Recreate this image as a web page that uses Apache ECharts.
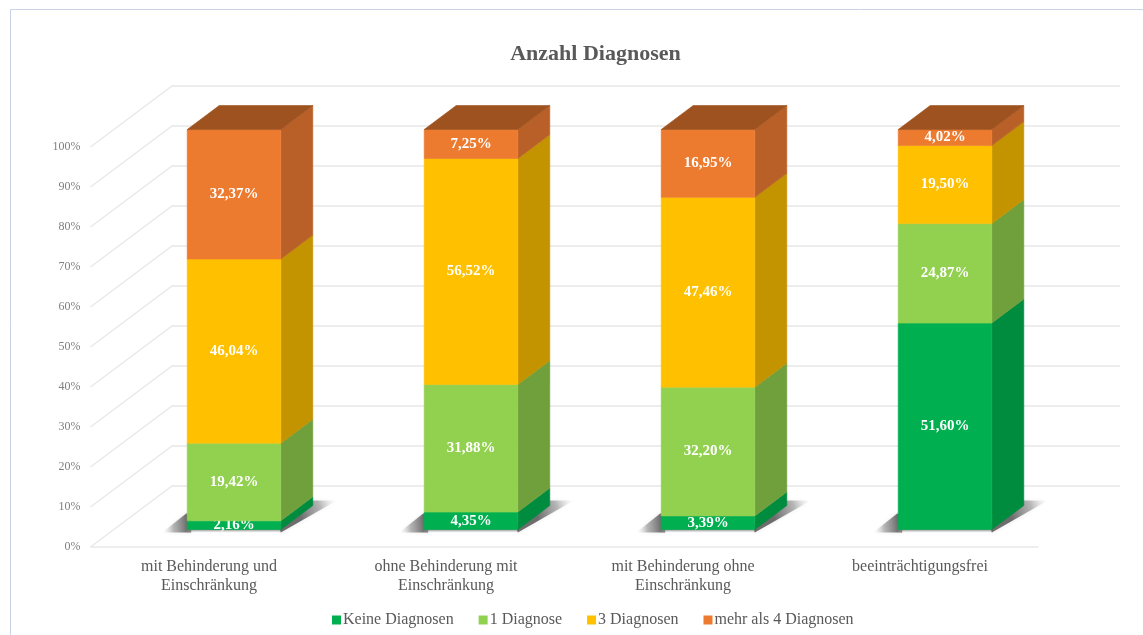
<!DOCTYPE html>
<html>
<head>
<meta charset="utf-8">
<style>html,body{margin:0;padding:0;background:#fff}#c{width:1143px;height:635px}</style>
<script src="https://cdn.jsdelivr.net/npm/echarts@6/dist/echarts.min.js"></script>
</head>
<body>
<div id="c"></div>
<script>
const categories = ['mit Behinderung und\nEinschränkung', 'ohne Behinderung mit\nEinschränkung', 'mit Behinderung ohne\nEinschränkung', 'beeinträchtigungsfrei'];
const keineDiagnosen = [2.16, 4.35, 3.39, 51.60];
const eineDiagnose = [19.42, 31.88, 32.20, 24.87];
const dreiDiagnosen = [46.04, 56.52, 47.46, 19.50];
const vierDiagnosen = [32.37, 7.25, 16.95, 4.02];
const seriesNames = ['Keine Diagnosen', '1 Diagnose', '3 Diagnosen', 'mehr als 4 Diagnosen'];
const yTicks = [0, 10, 20, 30, 40, 50, 60, 70, 80, 90, 100];

const FONT = '"Liberation Serif", serif';
// Oblique projection constants of the 3D look
const WALL = {dx: 81.5, dy: -61};
const BAR = {ox: 25, oy: -17.5, dx: 32, dy: -24, widthFrac: 0.395};
const palette = [
  {face: '#00B050', side: '#008C3F', top: '#007A36'},
  {face: '#92D050', side: '#6FA03C', top: '#5F8A33'},
  {face: '#FFC000', side: '#C49300', top: '#A67D00'},
  {face: '#EC7B30', side: '#B86027', top: '#9E521F'}
];
const stacks = [keineDiagnosen, eineDiagnose, dreiDiagnosen, vierDiagnosen];

function poly(points, fill, stroke) {
  return {type: 'polygon', shape: {points}, style: {fill, stroke: stroke || fill, lineWidth: 0.6}};
}

function renderWall(params, api) {
  const v = api.value(0);
  const cs = params.coordSys;
  const p = api.coord([0, v]);
  const x0 = cs.x, x1 = cs.x + cs.width, y = p[1];
  const bx0 = x0 + WALL.dx, bx1 = x1 + WALL.dx, by = y + WALL.dy;
  const style = {stroke: '#E8E8E8', lineWidth: 1.3, fill: null};
  const children = [
    {type: 'polyline', shape: {points: [[x0, y], [bx0, by], [bx1, by]]}, style}
  ];
  if (v === 0) {
    children.push({type: 'line', shape: {x1: x0, y1: y, x2: x1, y2: y}, style});
  }
  return {type: 'group', silent: true, children};
}

function renderShadow(params, api) {
  const j = api.value(0);
  const c = api.coord([j, 0]);
  const hw = api.size([1, 0])[0] * BAR.widthFrac / 2;
  const L = c[0] + BAR.ox - hw, R = c[0] + BAR.ox + hw, B = c[1] + BAR.oy;
  const grad = (x, y, x2, y2) => ({type: 'linear', global: true, x, y, x2, y2, colorStops: [
    {offset: 0, color: 'rgba(95,95,95,0.9)'}, {offset: 0.55, color: 'rgba(130,130,130,0.55)'}, {offset: 1, color: 'rgba(210,210,210,0)'}]});
  const soft = {shadowBlur: 4, shadowColor: 'rgba(170,170,170,0.3)'};
  return {type: 'group', silent: true, children: [
    {type: 'polygon', shape: {points: [[L - 25, B + 3], [L - 1, B - 16], [L + 4, B - 16], [L + 4, B + 3]]},
      style: Object.assign({fill: grad(L, B - 3, L - 25, B - 1)}, soft)},
    {type: 'polygon', shape: {points: [[L, B + 3], [R + 1, B + 3], [R + 1, B - 3], [L, B - 3]]},
      style: {fill: {type: 'linear', global: true, x: 0, y: B, x2: 0, y2: B + 3, colorStops: [
        {offset: 0, color: 'rgba(110,110,110,0.8)'}, {offset: 1, color: 'rgba(190,190,190,0.15)'}]}}},
    {type: 'polygon', shape: {points: [[R, B + 3], [R + 56, B - 29], [R + 32, B - 29], [R - 2, B - 4]]},
      style: Object.assign({fill: grad(R + 18, B - 16, R + 56, B - 29)}, soft)}
  ]};
}

function renderSegment(params, api) {
  const j = api.value(0), lo = api.value(1), hi = api.value(2), val = api.value(3);
  const s = params.seriesIndex - 2;
  const col = palette[s];
  const a = api.coord([j, lo]), b = api.coord([j, hi]);
  const hw = api.size([1, 0])[0] * BAR.widthFrac / 2;
  const cx = a[0] + BAR.ox, yb = a[1] + BAR.oy, yt = b[1] + BAR.oy;
  const L = cx - hw, R = cx + hw, dx = BAR.dx, dy = BAR.dy;
  const children = [
    poly([[R, yb], [R + dx, yb + dy], [R + dx, yt + dy], [R, yt]], col.side),
    poly([[L, yb], [R, yb], [R, yt], [L, yt]], col.face)
  ];
  if (s === stacks.length - 1) {
    children.push(poly([[L, yt], [R, yt], [R + dx, yt + dy], [L + dx, yt + dy]], col.top));
  }
  children.push({
    type: 'text',
    style: {
      text: val.toFixed(2).replace('.', ',') + '%',
      x: cx, y: (yb + yt) / 2,
      align: 'center', verticalAlign: 'middle',
      fill: '#fff', font: 'bold 15px ' + FONT
    }
  });
  return {type: 'group', children};
}

const barSeries = seriesNames.map((name, s) => ({
  name,
  type: 'custom',
  renderItem: renderSegment,
  clip: false,
  itemStyle: {color: palette[s].face},
  encode: {x: 0, y: [1, 2]},
  data: categories.map((_, j) => {
    let base = 0;
    for (let k = 0; k < s; k++) base += stacks[k][j];
    return [j, base, base + stacks[s][j], stacks[s][j]];
  })
}));

const option = {
  animation: false,
  backgroundColor: '#fff',
  title: {
    text: 'Anzahl Diagnosen', left: 590.5, top: 38, textAlign: 'center',
    textStyle: {fontFamily: FONT, fontSize: 22, fontWeight: 'bold', color: '#595959'}
  },
  graphic: [{
    type: 'polyline', silent: true, z: -1,
    shape: {points: [[10.5, 640], [10.5, 9.5], [1150, 9.5]]},
    style: {stroke: '#C9D3E8', lineWidth: 1, fill: null}
  }],
  legend: {
    data: seriesNames, left: 327, top: 607, itemWidth: 9, itemHeight: 9, itemGap: 25,
    icon: 'rect', selectedMode: false,
    textStyle: {fontFamily: FONT, fontSize: 16, color: '#595959', padding: [0, 0, 0, -3]}
  },
  grid: {left: 90.5, width: 948, top: 147, height: 400, containLabel: false},
  xAxis: {
    type: 'category', data: categories,
    axisLine: {show: false}, axisTick: {show: false}, splitLine: {show: false},
    axisLabel: {interval: 0, fontFamily: FONT, fontSize: 16, color: '#595959', lineHeight: 19, margin: 10}
  },
  yAxis: {
    type: 'value', min: 0, max: 100, interval: 10,
    axisLine: {show: false}, axisTick: {show: false}, splitLine: {show: false},
    axisLabel: {formatter: '{value}%', fontFamily: FONT, fontSize: 12, color: '#7F7F7F', margin: 10}
  },
  series: [
    {type: 'custom', name: 'wall', renderItem: renderWall, clip: false, silent: true,
      encode: {y: 0}, data: yTicks.map(v => [v]), z: 1},
    {type: 'custom', name: 'shadow', renderItem: renderShadow, clip: false, silent: true,
      encode: {x: 0}, data: categories.map((_, j) => [j]), z: 1}
  ].concat(barSeries)
};
echarts.init(document.getElementById('c')).setOption(option);
</script>
</body>
</html>
